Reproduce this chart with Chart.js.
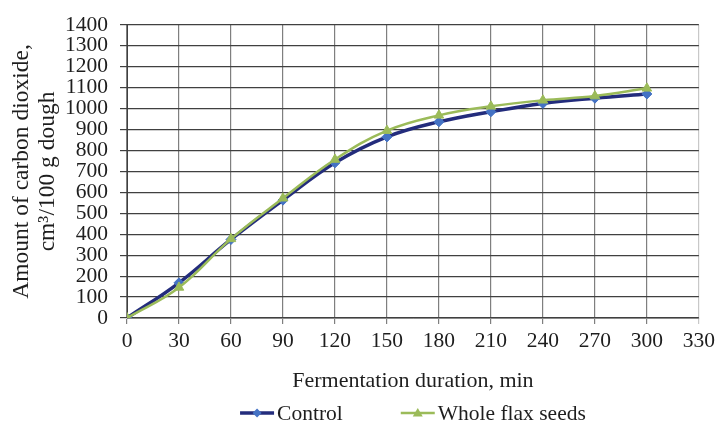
<!DOCTYPE html>
<html>
<head>
<meta charset="utf-8">
<script src="https://cdn.jsdelivr.net/npm/chart.js@4"></script>
<style>
  body { margin: 0; background: #fff; }
</style>
</head>
<body>
<canvas id="chart" width="719" height="427"></canvas>
<script>
const minutes = [0, 30, 60, 90, 120, 150, 180, 210, 240, 270, 300]
const control = [0, 168, 375, 563, 741, 865, 937, 985, 1025, 1050, 1070]
const flaxSeeds = [0, 146, 378, 572, 757, 895, 968, 1011, 1040, 1060, 1097]
const seriesNames = ['Control', 'Whole flax seeds']

const FONT = 'Liberation Serif, Times New Roman, serif'
const TEXT = '#1e1e1e'

// draws the legend below the axis title: short line with marker, then the name
const lineLegend = {
  id: 'lineLegend',
  afterDraw(chart) {
    const ctx = chart.ctx
    const sets = chart.data.datasets
    ctx.save()
    ctx.font = '21.5px ' + FONT
    const lineW = 34, gap = 3, itemGap = 58
    const widths = sets.map(d => lineW + gap + ctx.measureText(d.label).width)
    const total = widths.reduce((a, b) => a + b, 0) + itemGap * (sets.length - 1)
    let x = (chart.chartArea.left + chart.chartArea.right) / 2 - total / 2
    const y = chart.height - 14
    sets.forEach((d, i) => {
      ctx.strokeStyle = d.borderColor
      ctx.lineWidth = d.borderWidth
      ctx.beginPath()
      ctx.moveTo(x, y)
      ctx.lineTo(x + lineW, y)
      ctx.stroke()
      const cx = x + lineW / 2
      const r = d.pointRadius - 0.5
      ctx.fillStyle = d.pointBackgroundColor
      ctx.beginPath()
      if (d.pointStyle === 'triangle') {
        ctx.moveTo(cx, y - r)
        ctx.lineTo(cx + r, y + r * 0.7)
        ctx.lineTo(cx - r, y + r * 0.7)
      } else {
        ctx.moveTo(cx, y - r)
        ctx.lineTo(cx + r, y)
        ctx.lineTo(cx, y + r)
        ctx.lineTo(cx - r, y)
      }
      ctx.closePath()
      ctx.fill()
      ctx.fillStyle = TEXT
      ctx.textBaseline = 'middle'
      ctx.textAlign = 'left'
      ctx.fillText(d.label, x + lineW + gap, y + 1)
      x += widths[i] + itemGap
    })
    ctx.restore()
  }
}

new Chart(document.getElementById('chart'), {
  type: 'line',
  data: {
    datasets: [
      {
        label: seriesNames[0],
        data: minutes.map((m, i) => ({ x: m, y: control[i] })),
        order: 1,
        borderColor: '#232C7C',
        borderWidth: 3.5,
        pointStyle: 'rectRot',
        pointRadius: 5,
        pointBorderWidth: 1,
        pointBackgroundColor: '#4472C4',
        pointBorderColor: '#4472C4',
        tension: 0.4
      },
      {
        label: seriesNames[1],
        data: minutes.map((m, i) => ({ x: m, y: flaxSeeds[i] })),
        order: 0,
        borderColor: '#9BBB59',
        borderWidth: 2.5,
        pointStyle: 'triangle',
        pointRadius: 5.5,
        pointBorderWidth: 1,
        pointBackgroundColor: '#9BBB59',
        pointBorderColor: '#9BBB59',
        tension: 0.4
      }
    ]
  },
  options: {
    responsive: false,
    devicePixelRatio: 1,
    animation: false,
    layout: { padding: { left: 5, right: 19, top: 10, bottom: 30 } },
    plugins: {
      legend: { display: false },
      tooltip: { enabled: false }
    },
    scales: {
      x: {
        type: 'linear',
        min: 0,
        max: 330,
        afterFit: s => { s.height = 79 },
        ticks: {
          stepSize: 30, color: TEXT, padding: 4, maxRotation: 0,
          font: { family: FONT, size: 21.5 },
          callback: v => String(v)
        },
        grid: {
          color: c => c.tick && c.tick.value === 330 ? '#c8c8c8' : '#7f7f7f',
          tickLength: 6,
          lineWidth: 1.2
        },
        border: { color: '#8a8a8a' },
        title: {
          display: true,
          text: 'Fermentation duration, min',
          color: TEXT,
          font: { family: FONT, size: 22 },
          padding: { top: 10, bottom: 3 }
        }
      },
      y: {
        min: 0,
        max: 1400,
        afterFit: s => { s.width = 122 },
        ticks: {
          stepSize: 100, autoSkip: false, color: TEXT, padding: 12,
          font: { family: FONT, size: 21.5 },
          callback: v => String(v)
        },
        grid: { color: '#404040', tickLength: 7, lineWidth: 1.2 },
        border: { color: '#404040' },
        title: {
          display: true,
          text: ['Amount of carbon dioxide,', 'cm³/100 g dough'],
          color: TEXT,
          font: { family: FONT, size: 23.5, lineHeight: 1.1 },
          padding: { top: 4, bottom: 4 }
        }
      }
    }
  },
  plugins: [lineLegend]
})
</script>
</body>
</html>
